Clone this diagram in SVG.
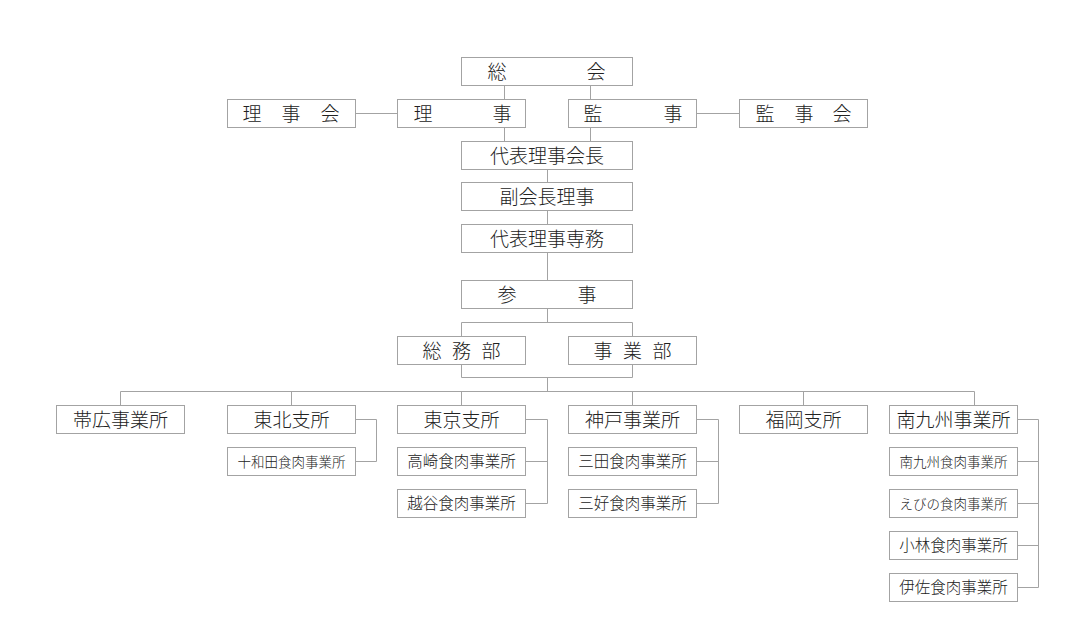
<svg xmlns="http://www.w3.org/2000/svg" width="1089" height="644" viewBox="0 0 1089 644">
<style>
.b{fill:#fff;stroke:#a3a3a3;stroke-width:1}
.c{fill:none;stroke:#a3a3a3;stroke-width:1}
text{font-family:"Noto Sans CJK JP","Noto Sans CJK SC",sans-serif;font-weight:300;fill:#222;text-anchor:middle}
.m{font-size:19px}
.s{font-size:15.5px}
.t{font-size:13.5px}
</style>
<rect width="1089" height="644" fill="#fff"/>
<g id="connectors">
<path class="c" d="M504.5 85.5V99.5M504.5 127.5V141.5M590.5 85.5V99.5M590.5 127.5V141.5"/>
<path class="c" d="M355.5 113.5H397.5M696.5 113.5H739.5"/>
<path class="c" d="M547.5 169.5V182.5M547.5 210.5V224.5M547.5 252.5V280.5M547.5 308.5V322.5"/>
<path class="c" d="M461.5 322.5H632.5V377.5H461.5Z"/>
<path class="c" d="M547.5 377.5V391.5M120.5 391.5H974.5"/>
<path class="c" d="M120.5 391.5V405.5M291.5 391.5V405.5M461.5 391.5V405.5M632.5 391.5V405.5M803.5 391.5V405.5M974.5 391.5V405.5"/>
<path class="c" d="M355.5 419.5H376.5V461.5H355.5"/>
<path class="c" d="M525.5 419.5H547.5V503.5H525.5M525.5 461.5H547.5"/>
<path class="c" d="M696.5 419.5H718.5V503.5H696.5M696.5 461.5H718.5"/>
<path class="c" d="M1017.5 419.5H1038.5V587.5H1017.5M1017.5 461.5H1038.5M1017.5 503.5H1038.5M1017.5 545.5H1038.5"/>
</g>
<g id="soukai"><rect class="b" x="461.5" y="57.5" width="171" height="28"/><text class="m" x="497" y="78.5">総</text><text class="m" x="596" y="78.5">会</text></g>
<g id="rijikai"><rect class="b" x="227.5" y="99.5" width="128" height="28"/><text class="m" x="252" y="120.5">理</text><text class="m" x="291" y="120.5">事</text><text class="m" x="330" y="120.5">会</text></g>
<g id="riji"><rect class="b" x="397.5" y="99.5" width="128" height="28"/><text class="m" x="423" y="120.5">理</text><text class="m" x="502" y="120.5">事</text></g>
<g id="kanji"><rect class="b" x="568.5" y="99.5" width="128" height="28"/><text class="m" x="593" y="120.5">監</text><text class="m" x="673" y="120.5">事</text></g>
<g id="kanjikai"><rect class="b" x="739.5" y="99.5" width="128" height="28"/><text class="m" x="765" y="120.5">監</text><text class="m" x="804" y="120.5">事</text><text class="m" x="842" y="120.5">会</text></g>
<g id="kaicho"><rect class="b" x="461.5" y="141.5" width="171" height="28"/><text class="m" x="547" y="162.5">代表理事会長</text></g>
<g id="fukukaicho"><rect class="b" x="461.5" y="182.5" width="171" height="28"/><text class="m" x="547" y="203.5">副会長理事</text></g>
<g id="senmu"><rect class="b" x="461.5" y="224.5" width="171" height="28"/><text class="m" x="547" y="245.5">代表理事専務</text></g>
<g id="sanji"><rect class="b" x="461.5" y="280.5" width="171" height="28"/><text class="m" x="507" y="301.5">参</text><text class="m" x="587" y="301.5">事</text></g>
<g id="somubu"><rect class="b" x="397.5" y="336.5" width="128" height="28"/><text class="m" x="432" y="357.5">総</text><text class="m" x="461.5" y="357.5">務</text><text class="m" x="491" y="357.5">部</text></g>
<g id="jigyobu"><rect class="b" x="568.5" y="336.5" width="128" height="28"/><text class="m" x="603" y="357.5">事</text><text class="m" x="632.5" y="357.5">業</text><text class="m" x="662" y="357.5">部</text></g>
<g id="obihiro"><rect class="b" x="56.5" y="405.5" width="128" height="28"/><text class="m" x="120.5" y="426.5">帯広事業所</text></g>
<g id="tohoku"><rect class="b" x="227.5" y="405.5" width="128" height="28"/><text class="m" x="291.5" y="426.5">東北支所</text></g>
<g id="towada"><rect class="b" x="227.5" y="447.5" width="128" height="28"/><text class="t" x="291.5" y="466.5">十和田食肉事業所</text></g>
<g id="tokyo"><rect class="b" x="397.5" y="405.5" width="128" height="28"/><text class="m" x="461.5" y="426.5">東京支所</text></g>
<g id="takasaki"><rect class="b" x="397.5" y="447.5" width="128" height="28"/><text class="s" x="461.5" y="467">高崎食肉事業所</text></g>
<g id="koshigaya"><rect class="b" x="397.5" y="489.5" width="128" height="28"/><text class="s" x="461.5" y="509">越谷食肉事業所</text></g>
<g id="kobe"><rect class="b" x="568.5" y="405.5" width="128" height="28"/><text class="m" x="632.5" y="426.5">神戸事業所</text></g>
<g id="sanda"><rect class="b" x="568.5" y="447.5" width="128" height="28"/><text class="s" x="632.5" y="467">三田食肉事業所</text></g>
<g id="miyoshi"><rect class="b" x="568.5" y="489.5" width="128" height="28"/><text class="s" x="632.5" y="509">三好食肉事業所</text></g>
<g id="fukuoka"><rect class="b" x="739.5" y="405.5" width="128" height="28"/><text class="m" x="803.5" y="426.5">福岡支所</text></g>
<g id="minamikyushu"><rect class="b" x="889.5" y="405.5" width="128" height="28"/><text class="m" x="953.5" y="426.5">南九州事業所</text></g>
<g id="minamikyushu-shokuniku"><rect class="b" x="889.5" y="447.5" width="128" height="28"/><text class="t" x="953.5" y="466.5">南九州食肉事業所</text></g>
<g id="ebino"><rect class="b" x="889.5" y="489.5" width="128" height="28"/><text class="t" x="953.5" y="508.5">えびの食肉事業所</text></g>
<g id="kobayashi"><rect class="b" x="889.5" y="531.5" width="128" height="28"/><text class="s" x="953.5" y="551">小林食肉事業所</text></g>
<g id="isa"><rect class="b" x="889.5" y="573.5" width="128" height="28"/><text class="s" x="953.5" y="593">伊佐食肉事業所</text></g>
</svg>
